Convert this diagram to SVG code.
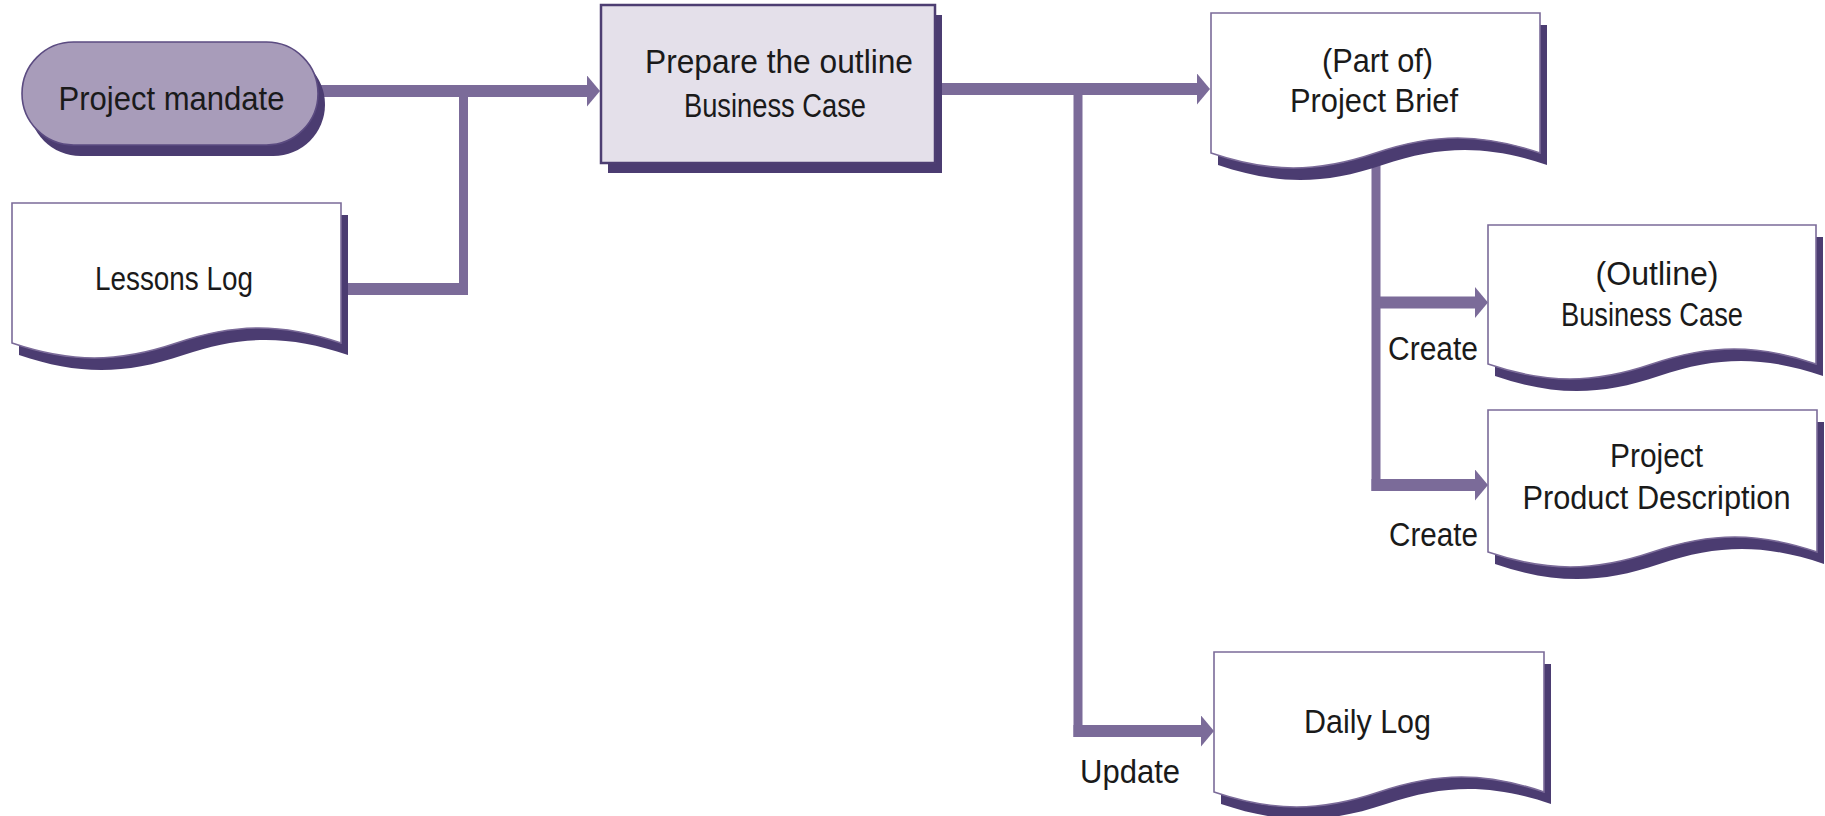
<svg xmlns="http://www.w3.org/2000/svg" width="1825" height="816" viewBox="0 0 1825 816">
  <style>
    .bg { fill: #ffffff; }
    .shadow { fill: #4b3c71; stroke: none; }
    .doc { fill: #ffffff; stroke: #7b6b99; stroke-width: 1.6; }
    .pill { fill: #a89cba; stroke: #5b4b81; stroke-width: 1.6; }
    .task { fill: #e4e0ea; stroke: #4d3e72; stroke-width: 2.5; }
    .flow { stroke: #7b6b99; fill: none; stroke-linecap: butt; }
    .h { stroke-width: 12; }
    .v { stroke-width: 9; }
    text { font-family: "Liberation Sans", Arial, sans-serif; font-size: 34px; fill: #1a1a1a; }
    .c { text-anchor: middle; }
  </style>
  <defs>
    <marker id="arrow" markerUnits="userSpaceOnUse" viewBox="0 0 13 31" markerWidth="13" markerHeight="31" refX="1" refY="15.5" orient="auto">
      <path d="M0,0 L13,15.5 L0,31 Z" fill="#7b6b99"/>
    </marker>
  </defs>

  <rect class="bg" x="0" y="0" width="1825" height="816"/>

  <!-- connectors -->
  <g id="connectors">
    <!-- mandate to task -->
    <line class="flow h" x1="300" y1="91" x2="588" y2="91" marker-end="url(#arrow)"/>
    <!-- lessons log joins the input line -->
    <line class="flow h" x1="335" y1="289" x2="468" y2="289"/>
    <line class="flow v" x1="463.5" y1="295" x2="463.5" y2="91"/>
    <!-- task to project brief -->
    <line class="flow h" x1="930" y1="89" x2="1198" y2="89" marker-end="url(#arrow)"/>
    <!-- task to daily log -->
    <line class="flow v" x1="1078" y1="89" x2="1078" y2="737"/>
    <line class="flow h" x1="1073.5" y1="731" x2="1202" y2="731" marker-end="url(#arrow)"/>
    <!-- project brief to its parts -->
    <line class="flow v" x1="1376" y1="160" x2="1376" y2="491"/>
    <line class="flow h" x1="1376" y1="302.5" x2="1476" y2="302.5" marker-end="url(#arrow)"/>
    <line class="flow h" x1="1371.5" y1="485" x2="1476" y2="485" marker-end="url(#arrow)"/>
  </g>

  <!-- nodes -->
  <g id="project-mandate">
    <rect class="shadow" x="29" y="53" width="296" height="103" rx="51.5"/>
    <rect class="pill" x="22" y="42" width="296" height="103" rx="51.5"/>
    <text class="c" x="171.5" y="110" textLength="226" lengthAdjust="spacingAndGlyphs">Project mandate</text>
  </g>

  <g id="lessons-log">
    <path class="shadow" transform="translate(7,12)" d="M12,203 H341 V343 C281.8,323 235.7,323 176.5,343 C117.3,363 71.2,363 12,343 Z"/>
    <path class="doc" d="M12,203 H341 V343 C281.8,323 235.7,323 176.5,343 C117.3,363 71.2,363 12,343 Z"/>
    <text class="c" x="174" y="290" textLength="158" lengthAdjust="spacingAndGlyphs">Lessons Log</text>
  </g>

  <g id="prepare-business-case">
    <rect class="shadow" x="608" y="15" width="334" height="158"/>
    <rect class="task" x="601" y="5" width="334" height="158"/>
    <text class="c" x="779" y="73" textLength="268" lengthAdjust="spacingAndGlyphs">Prepare the outline</text>
    <text class="c" x="775" y="117" textLength="182" lengthAdjust="spacingAndGlyphs">Business Case</text>
  </g>

  <g id="project-brief">
    <path class="shadow" transform="translate(7,12)" d="M1211,13 H1540 V153 C1480.8,133 1434.7,133 1375.5,153 C1316.3,173 1270.2,173 1211,153 Z"/>
    <path class="doc" d="M1211,13 H1540 V153 C1480.8,133 1434.7,133 1375.5,153 C1316.3,173 1270.2,173 1211,153 Z"/>
    <text class="c" x="1377.5" y="72" textLength="111" lengthAdjust="spacingAndGlyphs">(Part of)</text>
    <text class="c" x="1374" y="112" textLength="168" lengthAdjust="spacingAndGlyphs">Project Brief</text>
  </g>

  <g id="outline-business-case">
    <path class="shadow" transform="translate(7,12)" d="M1488,225 H1816 V364 C1757,344 1711,344 1652,364 C1593,384 1547,384 1488,364 Z"/>
    <path class="doc" d="M1488,225 H1816 V364 C1757,344 1711,344 1652,364 C1593,384 1547,384 1488,364 Z"/>
    <text class="c" x="1657" y="285" textLength="123" lengthAdjust="spacingAndGlyphs">(Outline)</text>
    <text class="c" x="1652" y="326" textLength="182" lengthAdjust="spacingAndGlyphs">Business Case</text>
  </g>

  <g id="project-product-description">
    <path class="shadow" transform="translate(7,12)" d="M1488,410 H1817 V552 C1757.8,532 1711.7,532 1652.5,552 C1593.3,572 1547.2,572 1488,552 Z"/>
    <path class="doc" d="M1488,410 H1817 V552 C1757.8,532 1711.7,532 1652.5,552 C1593.3,572 1547.2,572 1488,552 Z"/>
    <text class="c" x="1656.5" y="467" textLength="93" lengthAdjust="spacingAndGlyphs">Project</text>
    <text class="c" x="1656.5" y="509" textLength="268" lengthAdjust="spacingAndGlyphs">Product Description</text>
  </g>

  <g id="daily-log">
    <path class="shadow" transform="translate(7,12)" d="M1214,652 H1544 V792 C1484.6,772 1438.4,772 1379,792 C1319.6,812 1273.4,812 1214,792 Z"/>
    <path class="doc" d="M1214,652 H1544 V792 C1484.6,772 1438.4,772 1379,792 C1319.6,812 1273.4,812 1214,792 Z"/>
    <text class="c" x="1367.5" y="733" textLength="127" lengthAdjust="spacingAndGlyphs">Daily Log</text>
  </g>

  <!-- connector labels -->
  <g id="labels">
    <text x="1388" y="360" textLength="90" lengthAdjust="spacingAndGlyphs">Create</text>
    <text x="1389" y="546" textLength="89" lengthAdjust="spacingAndGlyphs">Create</text>
    <text x="1080" y="783" textLength="100" lengthAdjust="spacingAndGlyphs">Update</text>
  </g>
</svg>
